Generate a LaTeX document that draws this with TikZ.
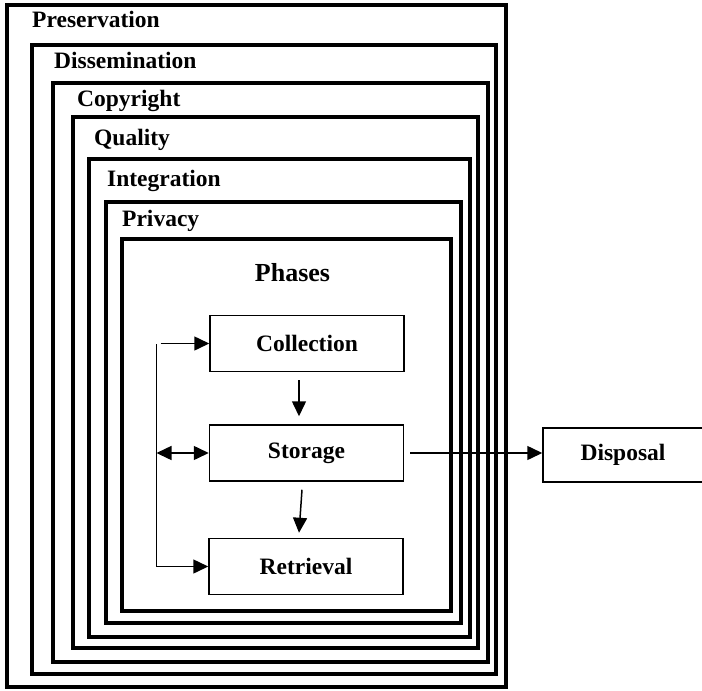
\documentclass[tikz,border=0pt]{standalone}
\usepackage{fontspec}
\setmainfont{Liberation Serif}
\usetikzlibrary{arrows.meta,calc}
\begin{document}
\begin{tikzpicture}[x=1pt,y=-1pt,
  frame/.style={line width=4pt,line join=miter},
  lbl/.style={anchor=base west,inner sep=0pt,font=\fontsize{23.5}{26}\selectfont\bfseries},
  phase/.style={draw,line width=1.5pt,minimum width=194pt,minimum height=56pt,inner sep=0pt,font=\fontsize{23.5}{26}\selectfont\bfseries},
  conn/.style={line width=1.5pt},
  tip/.style={-{Triangle[length=15pt,width=14pt]}}
]
\useasboundingbox (0,0) rectangle (702,691);
% nested frames
\draw[frame] (6.5,5) rectangle (505.5,687);
\draw[frame] (32,45) rectangle (496,674);
\draw[frame] (53,83) rectangle (488,662);
\draw[frame] (73,117) rectangle (478,648);
\draw[frame] (89,159) rectangle (470,637);
\draw[frame] (106,202) rectangle (461,623);
\draw[frame] (122,239) rectangle (451,611);
% frame labels
\node[lbl] (lpres) at (32,27) {Preservation};
\node[lbl] (ldiss) at (54,68) {Dissemination};
\node[lbl] (lcopy) at (77,106) {Copyright};
\node[lbl] (lqual) at (94,145) {Quality};
\node[lbl] (linte) at (107,186) {Integration};
\node[lbl] (lpriv) at (122,226) {Privacy};
\node[anchor=base,inner sep=0pt,font=\fontsize{26}{28}\selectfont\bfseries] (phases) at (292.5,281) {Phases};
% phase boxes
\node[phase] (collection) at (307,343.5) {Collection};
\node[phase] (storage) at (306.5,453) {Storage};
\node[phase] (retrieval) at (306,566.5) {Retrieval};
\node[phase,minimum width=160pt,minimum height=54pt] (disposal) at (623,455) {Disposal};
% bracket on the left
\coordinate (btop) at (156.5,344);
\coordinate (bbot) at (156.5,566.5);
\draw[conn] (btop) -- (bbot);
\draw[conn,tip] ($(collection.west -| btop)+(4,0)$) -- (collection.west);
\draw[conn,{Triangle[length=15pt,width=14pt]}-{Triangle[length=15pt,width=14pt]}] (storage.west -| btop) -- (storage.west);
\draw[conn,tip] (retrieval.west -| btop) -- (retrieval.west);
% vertical arrows
\draw[conn,tip] ($(collection.south)+(-8,8)$) -- ($(storage.north)+(-7.5,-8)$);
\draw[conn,tip] ($(storage.south)+(-4.5,8)$) -- ($(retrieval.north)+(-7,-5)$);
% to disposal
\draw[conn,tip] ($(storage.east)+(6,0)$) -- (storage.east -| disposal.west);
\end{tikzpicture}
\end{document}
